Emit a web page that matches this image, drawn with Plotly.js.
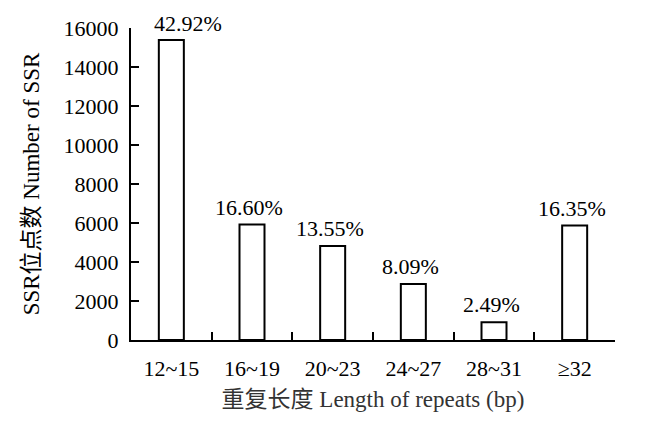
<!DOCTYPE html>
<html>
<head>
<meta charset="utf-8">
<script src="https://cdn.plot.ly/plotly-3.0.1.min.js"></script>
<style>html,body{margin:0;padding:0;background:#fff;}#chart{width:649px;height:427px;}</style>
</head>
<body>
<div id="chart"></div>
<script>
const categories = ["12~15", "16~19", "20~23", "24~27", "28~31", "≥32"];
const ssrCounts = [15380, 5920, 4820, 2870, 910, 5870];
const percentLabels = ["42.92%", "16.60%", "13.55%", "8.09%", "2.49%", "16.35%"];
const yTickValues = [0, 2000, 4000, 6000, 8000, 10000, 12000, 14000, 16000];

const FONT = "Liberation Serif, Noto Sans CJK SC, serif";

const trace = {
  type: "bar",
  x: categories,
  y: ssrCounts,
  width: 0.31,
  marker: { color: "#ffffff", line: { color: "#000000", width: 2 } },
  hoverinfo: "none"
};

const annotations = categories.map((c, i) => ({
  x: c, y: ssrCounts[i], xref: "x", yref: "y",
  text: percentLabels[i], showarrow: false,
  yanchor: "bottom", xanchor: "center",
  yshift: i === 0 ? 2 : 3, xshift: i === 0 ? 17 : -3,
  font: { family: FONT, size: 22, color: "#000" }
}));

const layout = {
  width: 649, height: 427,
  margin: { l: 131, r: 34, t: 28, b: 87 },
  paper_bgcolor: "#fff", plot_bgcolor: "#fff",
  showlegend: false,
  font: { family: FONT, color: "#000", size: 22 },
  xaxis: {
    type: "category",
    tickson: "boundaries",
    ticks: "inside", ticklen: 8, tickwidth: 2, tickcolor: "#000",
    showline: true, linecolor: "#000", linewidth: 2,
    showgrid: false, zeroline: false,
    tickfont: { family: FONT, size: 22, color: "#000" },
    ticklabelstandoff: 8,
    title: { text: "重复长度 Length of repeats (bp)", font: { family: FONT, size: 23, color: "#333" }, standoff: 10 },
    fixedrange: true
  },
  yaxis: {
    range: [0, 16000],
    tickmode: "array", tickvals: yTickValues, ticktext: yTickValues.map(String),
    ticks: "inside", ticklen: 8, tickwidth: 2, tickcolor: "#000",
    showline: true, linecolor: "#000", linewidth: 2,
    showgrid: false, zeroline: false,
    tickfont: { family: FONT, size: 22, color: "#000" },
    ticklabelstandoff: 6,
    title: { text: "SSR位点数 Number of SSR", font: { family: FONT, size: 23, color: "#000" }, standoff: 18 },
    fixedrange: true
  },
  annotations: annotations
};

Plotly.newPlot("chart", [trace], layout, { displayModeBar: false, staticPlot: true });
</script>
</body>
</html>
